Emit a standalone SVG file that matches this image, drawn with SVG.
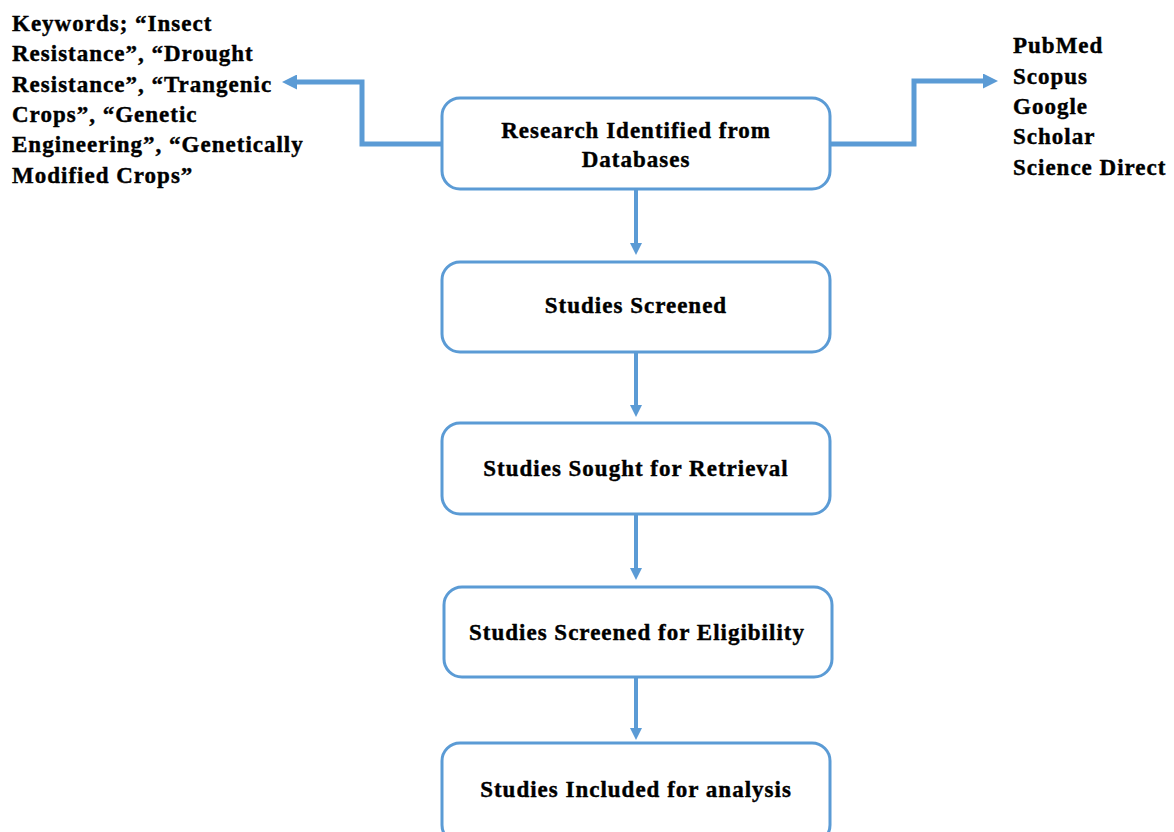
<svg xmlns="http://www.w3.org/2000/svg" width="1174" height="832" viewBox="0 0 1174 832">
  <defs>
    <style>
      .box { fill: #ffffff; stroke: #5b9bd5; stroke-width: 3; }
      .lbl { font-family: "Liberation Serif", "Times New Roman", serif; font-weight: bold; font-size: 23px; letter-spacing: 1px; fill: #000000; stroke: #000000; stroke-width: 0.4; }
      .mid { text-anchor: middle; }
      .wire { fill: none; stroke: #5b9bd5; stroke-width: 5; }
      .arrow { fill: none; stroke: #5b9bd5; stroke-width: 4; }
    </style>
    <!-- arrowhead starts where the line stops, so the thick stroke never shows past the tip -->
    <marker id="head" viewBox="0 0 10 10" refX="0" refY="5" markerWidth="3" markerHeight="3" markerUnits="strokeWidth" orient="auto">
      <path d="M0,0 L10,5 L0,10 z" fill="#5b9bd5"/>
    </marker>
  </defs>
  <rect width="1174" height="832" fill="#ffffff"/>

  <!-- connectors -->
  <g id="connectors">
    <path class="wire" d="M442,144 H362 V82 H297" marker-end="url(#head)"/>
    <path class="wire" d="M830,144 H914 V81 H983" marker-end="url(#head)"/>
    <path class="arrow" d="M636,189 V243" marker-end="url(#head)"/>
    <path class="arrow" d="M636,352 V405" marker-end="url(#head)"/>
    <path class="arrow" d="M636,514 V568" marker-end="url(#head)"/>
    <path class="arrow" d="M636,677 V728" marker-end="url(#head)"/>
  </g>

  <!-- keyword list -->
  <g id="keywords">
    <text class="lbl" x="12" y="31">Keywords; “Insect</text>
    <text class="lbl" x="12" y="61">Resistance”, “Drought</text>
    <text class="lbl" x="12" y="92">Resistance”, “Trangenic</text>
    <text class="lbl" x="12" y="122">Crops”, “Genetic</text>
    <text class="lbl" x="12" y="152">Engineering”, “Genetically</text>
    <text class="lbl" x="12" y="183">Modified Crops”</text>
  </g>

  <!-- database list -->
  <g id="databases">
    <text class="lbl" x="1013" y="53">PubMed</text>
    <text class="lbl" x="1013" y="84">Scopus</text>
    <text class="lbl" x="1013" y="114">Google</text>
    <text class="lbl" x="1013" y="144">Scholar</text>
    <text class="lbl" x="1013" y="175">Science Direct</text>
  </g>

  <g id="identified">
    <rect class="box" x="442" y="98" width="388" height="91" rx="18"/>
    <text class="lbl mid" x="636" y="138">Research Identified from</text>
    <text class="lbl mid" x="636" y="167">Databases</text>
  </g>

  <g id="screened">
    <rect class="box" x="442" y="262" width="388" height="90" rx="18"/>
    <text class="lbl mid" x="636" y="313">Studies Screened</text>
  </g>

  <g id="retrieval">
    <rect class="box" x="442" y="423" width="388" height="91" rx="18"/>
    <text class="lbl mid" x="636" y="476">Studies Sought for Retrieval</text>
  </g>

  <g id="eligibility">
    <rect class="box" x="444" y="587" width="388" height="90" rx="18"/>
    <text class="lbl mid" x="637" y="640">Studies Screened for Eligibility</text>
  </g>

  <g id="included">
    <rect class="box" x="442" y="743" width="388" height="100" rx="18"/>
    <text class="lbl mid" x="636" y="797">Studies Included for analysis</text>
  </g>
</svg>
